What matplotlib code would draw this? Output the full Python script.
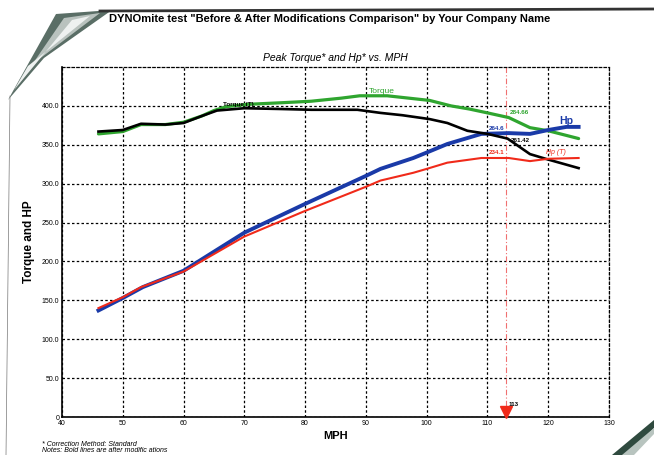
import matplotlib.pyplot as plt
import numpy as np
from matplotlib.patches import Polygon

plt.rcParams["font.family"] = ["Liberation Sans", "DejaVu Sans"]

# values
torque_mph = [46, 50, 53, 57, 60, 63, 65, 67, 70.5, 76, 81, 86, 89, 93.5, 97, 100.5, 104, 107, 110, 113.5, 117, 120, 125]
torque = [364, 367, 376, 376, 379, 387, 394, 399, 402, 404, 406, 410, 413, 413, 410, 407, 400, 396, 391, 385, 372, 368, 358]

torque_t_mph = [46, 50, 53, 57, 60, 63, 65.5, 70, 76, 81, 88.6, 92.4, 96, 100.5, 103.4, 106.7, 110, 113.3, 117, 120, 125]
torque_t = [367, 369, 377, 376, 378, 387, 394, 397, 396, 395, 395, 391, 388, 383, 378, 368, 364, 358, 338, 331, 320]

hp_mph = [46, 50, 53.3, 60, 70, 80, 90, 92.4, 97.8, 100, 103.4, 109, 113.5, 117, 120, 123, 125]
hp = [137, 153, 167, 188, 237, 274, 310, 319, 333, 340, 351, 364, 365, 364, 369, 373, 373]

hp_t_mph = [46, 50, 53, 60, 70, 80, 90, 92.4, 97.8, 100, 103.4, 109, 113.5, 117, 120, 125]
hp_t = [140, 154, 167, 187, 232, 265, 296, 304, 314, 319, 327, 333, 333, 329, 332, 333]

peak_mph = 113
x_ticks = [40, 50, 60, 70, 80, 90, 100, 110, 120, 130]
y_ticks = [0, 50, 100, 150, 200, 250, 300, 350, 400]
y_labels = ["0", "50.0", "100.0", "150.0", "200.0", "250.0", "300.0", "350.0", "400.0"]

W, H = 654, 455
fig = plt.figure(figsize=(W / 100, H / 100), dpi=100)
ax = fig.add_axes([62 / W, 1 - 417 / H, (609 - 62) / W, (417 - 67) / H])

ax.plot(torque_mph, torque, color="#2fa52f", lw=2.3, solid_capstyle="round", zorder=3)
ax.plot(torque_t_mph, torque_t, color="black", lw=1.9, zorder=4)
ax.plot(hp_mph, hp, color="#1a3aa8", lw=2.8, zorder=3)
ax.plot(hp_t_mph, hp_t, color="#f02a1a", lw=1.5, zorder=4)

ax.axvline(peak_mph, color="#f07070", lw=0.8, ls=(0, (5, 2, 1, 2)), zorder=2)
ax.plot([peak_mph], [7], marker="v", color="#f02a1a", markersize=9, clip_on=False, zorder=5)
ax.text(peak_mph + 0.4, 14, "113", fontsize=4.5, fontweight="bold", zorder=5)

ax.text(90.5, 417, "Torque", color="#2fa52f", fontsize=6)
ax.text(66.5, 400, "Torque (T)", color="black", fontsize=4.5, fontweight="bold")
ax.text(113.6, 389, "284.66", color="#2fa52f", fontsize=4.5, fontweight="bold")
ax.text(112.8, 369, "264.6", color="#1a3aa8", fontsize=4.5, fontweight="bold", ha="right")
ax.text(113.8, 354, "261.42", color="black", fontsize=4.5, fontweight="bold")
ax.text(112.8, 338, "234.1", color="#f02a1a", fontsize=4.5, fontweight="bold", ha="right")
ax.text(121.8, 377, "Hp", color="#1a3aa8", fontsize=7.5, fontweight="bold")
ax.text(119.7, 338, "Hp (T)", color="#f02a1a", fontsize=5, fontstyle="italic")

ax.set_xlim(40, 130)
ax.set_ylim(0, 450)
ax.set_xticks(x_ticks)
ax.set_yticks(y_ticks)
ax.set_yticklabels(y_labels)
ax.tick_params(labelsize=5, length=0, pad=2)
ax.grid(True, color="black", lw=0.9, ls=(0, (2, 1.8)))
for side in ["top", "right"]:
    ax.spines[side].set_linestyle((0, (2, 1.8)))
    ax.spines[side].set_linewidth(0.9)
for side in ["left", "bottom"]:
    ax.spines[side].set_linewidth(1.2)

ax.set_xlabel("MPH", fontsize=8, fontweight="bold", labelpad=3)
ax.set_ylabel("Torque and HP", fontsize=8.5, fontweight="bold", labelpad=5)
ax.set_title("Peak Torque* and Hp* vs. MPH", fontsize=7.5, fontstyle="italic", pad=4)

fig.text(330 / W, 1 - 19 / H, 'DYNOmite test "Before & After Modifications Comparison" by Your Company Name',
         fontsize=8, fontweight="bold", ha="center", va="center")
fig.text(42 / W, 1 - 444 / H, "* Correction Method: Standard", fontsize=5, fontstyle="italic", va="center")
fig.text(42 / W, 1 - 450 / H, "Notes: Bold lines are after modific ations", fontsize=5, fontstyle="italic", va="center")


def px(points):
    return [(x / W, 1 - y / H) for x, y in points]


# scanned page edge and curled corners
fig.add_artist(plt.Line2D([100 / W, 1], [1 - 11 / H, 1 - 9 / H], color="#333333", lw=2))
fig.add_artist(Polygon(px([(56, 14), (112, 10), (44, 58), (8, 100)]), closed=True,
                       facecolor="#5a6e66", edgecolor="none"))
fig.add_artist(Polygon(px([(64, 18), (100, 13), (34, 63), (12, 94)]), closed=True,
                       facecolor="#b9c2be", edgecolor="none"))
fig.add_artist(Polygon(px([(72, 20), (90, 16), (28, 66), (14, 90)]), closed=True,
                       facecolor="#eef1f0", edgecolor="none"))
fig.add_artist(plt.Line2D([10 / W, 6 / W], [1 - 96 / H, 0], color="#777777", lw=0.5))
fig.add_artist(Polygon(px([(612, 455), (654, 420), (654, 428), (628, 455)]), closed=True,
                       facecolor="#2f4a3f", edgecolor="none"))
fig.add_artist(Polygon(px([(622, 455), (654, 428), (654, 434), (634, 455)]), closed=True,
                       facecolor="#b8c4bf", edgecolor="none"))

fig.savefig("out.png", dpi=100)
